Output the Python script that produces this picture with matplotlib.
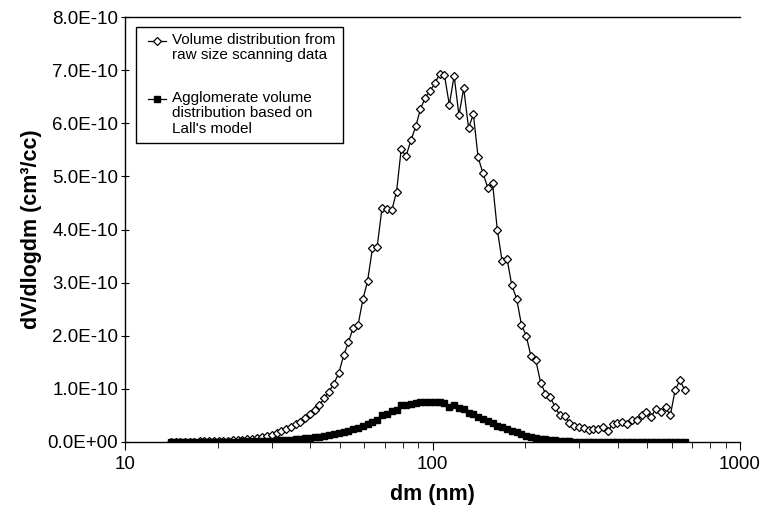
import matplotlib
matplotlib.use("Agg")
import matplotlib.pyplot as plt
from matplotlib.lines import Line2D
from matplotlib.patches import Rectangle
from matplotlib.ticker import FuncFormatter, MultipleLocator, LogLocator, NullFormatter

plt.rcParams['font.family'] = ['Liberation Sans', 'DejaVu Sans']

# particle mobility diameter (nm), SMPS channels
dm = [14.1, 14.6, 15.1, 15.7, 16.3, 16.8, 17.5, 18.1, 18.8, 19.5,
      20.2, 20.9, 21.7, 22.5, 23.3, 24.1, 25.0, 25.9, 26.9, 27.9,
      28.9, 30.0, 31.1, 32.2, 33.4, 34.6, 35.9, 37.2, 38.5, 40.0,
      41.4, 42.9, 44.5, 46.1, 47.8, 49.6, 51.4, 53.3, 55.2, 57.3,
      59.4, 61.5, 63.8, 66.1, 68.5, 71.0, 73.7, 76.4, 79.1, 82.0,
      85.1, 88.2, 91.4, 94.7, 98.2, 101.8, 105.5, 109.4, 113.4, 117.6,
      121.9, 126.3, 131.0, 135.8, 140.7, 145.9, 151.2, 156.8, 162.5, 168.5,
      174.7, 181.1, 187.7, 194.6, 201.7, 209.1, 216.7, 224.7, 232.9, 241.4,
      250.3, 259.5, 269.0, 278.8, 289.0, 299.6, 310.6, 322.0, 333.8, 346.0,
      358.7, 371.8, 385.4, 399.5, 414.2, 429.4, 445.1, 461.4, 478.3, 495.8,
      514.0, 532.8, 552.3, 572.5, 593.5, 615.3, 637.8, 661.2]

# raw scanning data, units of 1e-10 cm3/cc
raw = [0.003, 0.004, 0.005, 0.006, 0.007, 0.008, 0.010, 0.012, 0.014, 0.016,
       0.019, 0.022, 0.026, 0.030, 0.035, 0.040, 0.050, 0.060, 0.075, 0.090,
       0.11, 0.14, 0.17, 0.20, 0.24, 0.28, 0.33, 0.38, 0.45, 0.52,
       0.60, 0.70, 0.82, 0.95, 1.10, 1.30, 1.63, 1.88, 2.15, 2.21,
       2.69, 3.03, 3.65, 3.68, 4.40, 4.38, 4.36, 4.71, 5.51, 5.38,
       5.68, 5.94, 6.27, 6.48, 6.61, 6.75, 6.93, 6.90, 6.35, 6.89,
       6.15, 6.66, 5.91, 6.17, 5.36, 5.06, 4.79, 4.87, 3.99, 3.40,
       3.45, 2.95, 2.70, 2.21, 2.00, 1.61, 1.54, 1.12, 0.91, 0.85,
       0.66, 0.50, 0.49, 0.36, 0.31, 0.28, 0.26, 0.23, 0.24, 0.24,
       0.28, 0.21, 0.33, 0.35, 0.38, 0.33, 0.41, 0.41, 0.51, 0.57,
       0.47, 0.63, 0.57, 0.65, 0.50, 0.98, 1.16, 0.98]

# agglomerate volume distribution (Lall's model), units of 1e-10 cm3/cc
lall = [0.000, 0.000, 0.000, 0.001, 0.001, 0.001, 0.002, 0.002, 0.003, 0.003,
        0.004, 0.005, 0.006, 0.007, 0.008, 0.010, 0.012, 0.014, 0.016, 0.019,
        0.022, 0.025, 0.029, 0.033, 0.038, 0.045, 0.052, 0.060, 0.068, 0.078,
        0.090, 0.100, 0.115, 0.130, 0.150, 0.170, 0.190, 0.215, 0.240, 0.270,
        0.300, 0.330, 0.370, 0.410, 0.500, 0.520, 0.580, 0.610, 0.690, 0.700,
        0.710, 0.730, 0.750, 0.760, 0.760, 0.760, 0.750, 0.730, 0.660, 0.700,
        0.640, 0.620, 0.550, 0.530, 0.470, 0.440, 0.390, 0.360, 0.310, 0.280,
        0.240, 0.210, 0.180, 0.150, 0.120, 0.100, 0.080, 0.065, 0.050, 0.040,
        0.030, 0.022, 0.016, 0.012, 0.009, 0.007, 0.006, 0.005, 0.004, 0.004,
        0.003, 0.003, 0.003, 0.002, 0.002, 0.002, 0.002, 0.002, 0.001, 0.001,
        0.001, 0.001, 0.001, 0.001, 0.001, 0.001, 0.001, 0.001]

labels = ['Volume distribution from\nraw size scanning data',
          'Agglomerate volume\ndistribution based on\nLall\'s model']

raw_v = [v * 1e-10 for v in raw]
lall_v = [v * 1e-10 for v in lall]

W, H = 776, 507
fig = plt.figure(figsize=(W / 100, H / 100), dpi=100)
ax = fig.add_axes([125 / W, 65 / H, 615 / W, 425 / H])

raw_style = dict(color='black', lw=0.9, marker='D', ms=4.2,
                 mfc='white', mec='black', mew=0.9)
lall_style = dict(color='black', lw=0.9, marker='s', ms=4.6,
                  mfc='black', mec='black')
ax.plot(dm, raw_v, **raw_style)
ax.plot(dm, lall_v, **lall_style)

ax.set_xscale('log')
ax.set_xlim(10, 1000)
ax.set_ylim(0, 8e-10)
ax.yaxis.set_major_locator(MultipleLocator(1e-10))
ax.yaxis.set_major_formatter(FuncFormatter(
    lambda v, p: '0.0E+00' if abs(v) < 1e-14 else '%.1fE-10' % (v / 1e-10)))
ax.xaxis.set_major_locator(LogLocator(base=10))
ax.xaxis.set_minor_locator(LogLocator(base=10, subs=range(2, 10)))
ax.xaxis.set_minor_formatter(NullFormatter())
ax.xaxis.set_major_formatter(FuncFormatter(lambda v, p: '%d' % v))

ax.spines['right'].set_visible(False)
for s in ax.spines.values():
    s.set_linewidth(1.0)
ax.tick_params(axis='y', direction='inout', length=6, labelsize=13.5, pad=2)
ax.tick_params(axis='x', which='major', direction='out', length=6, labelsize=13.5, pad=4)
ax.tick_params(axis='x', which='minor', direction='out', length=4)

ax.set_xlabel('dm (nm)', fontsize=15.5, fontweight='bold')
ax.set_ylabel('dV/dlogdm (cm³/cc)', fontsize=15.5, fontweight='bold')
ax.xaxis.set_label_coords(0.5, -0.098)
ax.yaxis.set_label_coords(-0.135, 0.5)


# legend drawn by hand so that the key sits on the first text line
def px(x, y):
    return x / W, 1 - y / H


x0, y0 = px(136, 27)
x1, y1 = px(343, 143)
fig.add_artist(Rectangle((x0, y1), x1 - x0, y0 - y1, transform=fig.transFigure,
                         fill=False, edgecolor='black', lw=1.0))
for lab, style, ytop in [(labels[0], raw_style, 33), (labels[1], lall_style, 91)]:
    hx0, hy = px(148, ytop + 8)
    hx1, _ = px(166, ytop + 8)
    hxm, _ = px(157, ytop + 8)
    fig.add_artist(Line2D([hx0, hx1], [hy, hy], transform=fig.transFigure,
                          color='black', lw=0.9))
    fig.add_artist(Line2D([hxm], [hy], transform=fig.transFigure, ls='none',
                          **{k: v for k, v in style.items() if k not in ('lw', 'color')}))
    tx, ty = px(172, ytop)
    fig.text(tx, ty, lab, ha='left', va='top', fontsize=11, linespacing=1.12)

fig.savefig('out.png', dpi=100)
